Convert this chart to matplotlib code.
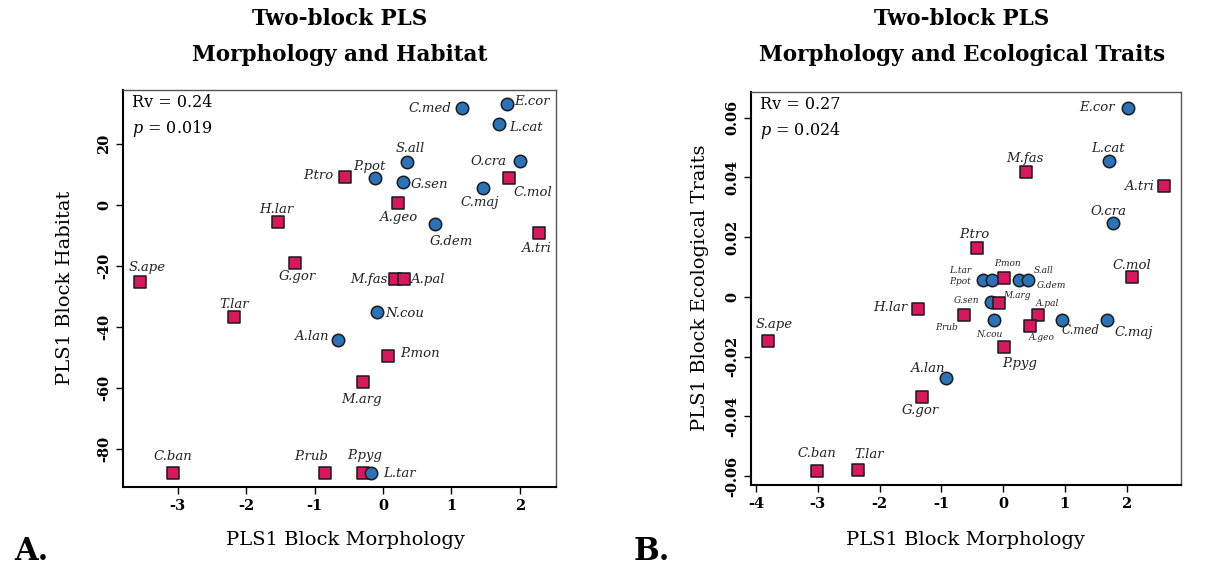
import numpy as np
import matplotlib
matplotlib.use("Agg")
from matplotlib import pyplot as plt

plt.rcParams['font.family'] = 'DejaVu Serif'
plt.rcParams['mathtext.fontset'] = 'dejavuserif'
plt.rcParams['axes.unicode_minus'] = False

# ---- panel A : morphology vs habitat ----
namesA = ["S.ape", "H.lar", "G.gor", "P.tro", "T.lar", "A.lan", "M.arg", "C.ban",
          "P.rub", "P.pyg", "L.tar", "P.mon", "N.cou", "C.med", "E.cor", "L.cat",
          "S.all", "P.pot", "G.sen", "O.cra", "C.mol", "C.maj", "A.geo", "G.dem",
          "A.tri", "M.fas", "A.pal"]
xA = [-3.55, -1.54, -1.28, -0.56, -2.17, -0.65, -0.29, -3.07,
      -0.84, -0.29, -0.17, 0.08, -0.09, 1.16, 1.81, 1.70,
      0.35, -0.11, 0.30, 2.00, 1.84, 1.46, 0.22, 0.76,
      2.28, 0.18, 0.31]
yA = [-25.3, -5.7, -19.1, 9.3, -36.8, -44.3, -58.1, -88.0,
      -88.0, -88.0, -88.0, -49.5, -35.0, 31.7, 33.0, 26.5,
      14.0, 8.8, 7.4, 14.4, 9.0, 5.5, 0.8, -6.3,
      -9.3, -24.3, -24.3]
# 's' = square (red), 'o' = circle (blue)
shapeA = ["s", "s", "s", "s", "s", "o", "s", "s",
          "s", "s", "o", "s", "o", "o", "o", "o",
          "o", "o", "o", "o", "s", "o", "s", "o",
          "s", "s", "s"]
# label offsets in pixels (dx right, dy down)
offA = [(7, -15), (-1, -13), (2, 13), (-26, -1), (0, -13), (-27, -4), (-2, 17), (0, -17),
        (-14, -17), (2, -18), (28, 0), (32, -2), (28, 2), (-32, 0), (25, -3), (27, 3),
        (3, -14), (-6, -12), (26, 2), (-31, 0), (24, 15), (-3, 14), (0, 15), (16, 17),
        (-3, 15), (-26, 0), (23, 0)]
ticksxA = [-3, -2, -1, 0, 1, 2]
ticksyA = [-80, -60, -40, -20, 0, 20]

# ---- panel B : morphology vs ecological traits ----
namesB = ["E.cor", "L.cat", "M.fas", "A.tri", "O.cra", "P.tro", "C.mol", "H.lar",
          "S.ape", "A.lan", "G.gor", "C.ban", "T.lar", "P.pyg", "L.tar", "P.pot",
          "P.mon", "S.all", "G.dem", "G.sen", "M.arg", "A.pal", "P.rub", "N.cou",
          "A.geo", "C.med", "C.maj"]
xB = [2.02, 1.72, 0.37, 2.61, 1.78, -0.43, 2.09, -1.37,
      -3.81, -0.92, -1.31, -3.01, -2.35, 0.02, -0.33, -0.18,
      0.02, 0.25, 0.41, -0.20, -0.06, 0.56, -0.63, -0.15,
      0.43, 0.95, 1.69]
yB = [0.0632, 0.0455, 0.0418, 0.0371, 0.0249, 0.0164, 0.0065, -0.0042,
      -0.0148, -0.0273, -0.0336, -0.0583, -0.0580, -0.0167, 0.0055, 0.0055,
      0.0064, 0.0055, 0.0055, -0.0017, -0.0022, -0.0061, -0.0061, -0.0076,
      -0.0097, -0.0078, -0.0078]
shapeB = ["o", "o", "s", "s", "o", "s", "s", "s",
          "s", "o", "s", "s", "s", "s", "o", "o",
          "s", "o", "o", "o", "s", "s", "s", "o",
          "s", "o", "o"]
offB = [(-31, -1), (-1, -12), (-1, -14), (-25, 0), (-5, -11), (-2, -13), (0, -12), (-28, -2),
        (7, -17), (-19, -10), (-2, 13), (0, -17), (11, -16), (15, 17), (-22, -10), (-32, 1),
        (3, -14), (25, -10), (23, 5), (-24, -1), (18, -8), (10, -12), (-18, 12), (-4, 15),
        (12, 12), (19, 10), (26, 12)]
smallB = {"L.tar", "P.pot", "P.mon", "S.all", "G.dem", "G.sen", "M.arg", "A.pal",
          "P.rub", "N.cou", "A.geo"}
midB = {"C.med"}
ticksxB = [-4, -3, -2, -1, 0, 1, 2]
ticksyB = [-0.06, -0.04, -0.02, 0, 0.02, 0.04, 0.06]
tlabyB = ["-0.06", "-0.04", "-0.02", "0", "0.02", "0.04", "0.06"]

red = "#d8175e"
blue = "#2b73b9"

fig = plt.figure(figsize=(12.23, 5.71), dpi=100)
W, H = 1223.0, 571.0


def px(x, y):
    return x / W, 1 - y / H


def panel(ax, names, xs, ys, shapes, offs, small=(), mid=()):
    for n, x, y, s, (dx, dy) in zip(names, xs, ys, shapes, offs):
        c = red if s == "s" else blue
        ax.scatter([x], [y], marker=s, s=80, color=c, edgecolor="#1a1a1a",
                   linewidth=1.1, zorder=3)
        fs = 6.5 if n in small else (8.5 if n in mid else 9.5)
        ax.annotate(n, (x, y), xytext=(dx, -dy), textcoords="offset pixels",
                    ha="center", va="center", fontsize=fs, style="italic",
                    color="#222222", zorder=4)
    for side in ["top", "right"]:
        ax.spines[side].set_color("#555555")
        ax.spines[side].set_linewidth(1.0)
    for side in ["left", "bottom"]:
        ax.spines[side].set_linewidth(1.5)
    ax.tick_params(direction="out", length=5, width=1.0, labelsize=10.5)


def ticks(ax, xt, yt, ylabs=None):
    ax.set_xticks(xt)
    ax.set_xticklabels([str(v) for v in xt], fontweight="bold")
    ax.set_yticks(yt)
    if ylabs is None:
        ylabs = [str(v) for v in yt]
    ax.set_yticklabels(ylabs, fontweight="bold", rotation=90, va="center")


axA = fig.add_axes([123 / W, 1 - 487 / H, 433 / W, 397 / H])
axA.set_xlim(-3.80, 2.53)
axA.set_ylim(-92.5, 37.7)
ticks(axA, ticksxA, ticksyA)
panel(axA, namesA, xA, yA, shapeA, offA)
axA.text(0.02, 0.99, "Rv = 0.24", transform=axA.transAxes, ha="left", va="top", fontsize=11.5)
axA.text(0.02, 0.93, "$p$ = 0.019", transform=axA.transAxes, ha="left", va="top", fontsize=11.5)

axB = fig.add_axes([751 / W, 1 - 485 / H, 430 / W, 393 / H])
axB.set_xlim(-4.08, 2.88)
axB.set_ylim(-0.063, 0.0686)
ticks(axB, ticksxB, ticksyB, tlabyB)
panel(axB, namesB, xB, yB, shapeB, offB, smallB, midB)
axB.text(0.02, 0.99, "Rv = 0.27", transform=axB.transAxes, ha="left", va="top", fontsize=11.5)
axB.text(0.02, 0.93, "$p$ = 0.024", transform=axB.transAxes, ha="left", va="top", fontsize=11.5)

# titles
fig.text(*px(340, 19), "Two-block PLS", ha="center", va="center", fontsize=15.5, fontweight="bold")
fig.text(*px(340, 55), "Morphology and Habitat", ha="center", va="center", fontsize=15.5, fontweight="bold")
fig.text(*px(962, 19), "Two-block PLS", ha="center", va="center", fontsize=15.5, fontweight="bold")
fig.text(*px(962, 55), "Morphology and Ecological Traits", ha="center", va="center", fontsize=15.5, fontweight="bold")

# axis labels
fig.text(*px(345, 540), "PLS1 Block Morphology", ha="center", va="center", fontsize=14)
fig.text(*px(965, 540), "PLS1 Block Morphology", ha="center", va="center", fontsize=14)
fig.text(*px(65, 288), "PLS1 Block Habitat", ha="center", va="center", fontsize=14, rotation=90)
fig.text(*px(700, 288), "PLS1 Block Ecological Traits", ha="center", va="center", fontsize=14, rotation=90)

# panel letters
fig.text(*px(31, 552), "A.", ha="center", va="center", fontsize=22, fontweight="bold")
fig.text(*px(652, 552), "B.", ha="center", va="center", fontsize=22, fontweight="bold")

fig.savefig("out.png", dpi=100)
